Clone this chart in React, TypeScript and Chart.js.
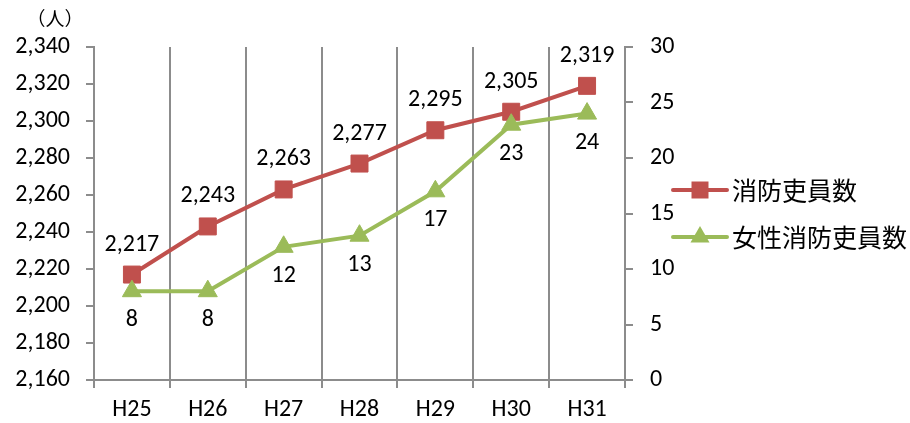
import React, { useEffect, useRef } from 'react';
import { Chart, registerables } from 'chart.js';
Chart.register(...registerables);

const categories = ['H25', 'H26', 'H27', 'H28', 'H29', 'H30', 'H31'];
const firefighters = [2217, 2243, 2263, 2277, 2295, 2305, 2319];
const femaleFirefighters = [8, 8, 12, 13, 17, 23, 24];
const seriesNames = ['消防吏員数', '女性消防吏員数'];
const unitLabel = '（人）';
const leftTicks = { min: 2160, max: 2340, step: 20 };
const rightTicks = { min: 0, max: 30, step: 5 };

const RED = '#C0504D';
const GREEN = '#9BBB59';
const GRID = '#8c8c8c';
const NUM_FONT = 'Carlito, Lato, sans-serif';
const JP_FONT = '"Noto Sans CJK JP", sans-serif';

const fmt = (v: number) => v.toLocaleString('en-US');

const dataLabels = {
  id: 'dataLabels',
  afterDatasetsDraw(chart: any) {
    const ctx = chart.ctx;
    ctx.save();
    ctx.font = `24px ${NUM_FONT}`;
    ctx.fillStyle = '#000';
    ctx.textAlign = 'center';
    ctx.textBaseline = 'middle';
    chart.data.datasets.forEach((ds: any, i: number) => {
      const meta = chart.getDatasetMeta(i);
      meta.data.forEach((pt: any, j: number) => {
        const dy = i === 0 ? -30 : 29;
        ctx.fillText(fmt(ds.data[j]), pt.x, pt.y + dy);
      });
    });
    ctx.restore();
  },
};

const extras = {
  id: 'extras',
  afterDraw(chart: any) {
    const ctx = chart.ctx;
    const area = chart.chartArea;
    ctx.save();
    // unit label
    ctx.font = `19px ${JP_FONT}`;
    ctx.fillStyle = '#000';
    ctx.textAlign = 'center';
    ctx.textBaseline = 'middle';
    ctx.fillText(unitLabel, 55, 19);
    // legend
    const mid = (area.top + area.bottom) / 2;
    const colors = [RED, GREEN];
    seriesNames.forEach((name, i) => {
      const y = mid - 23.5 + i * 47;
      const x0 = area.right + 48;
      const x1 = area.right + 102;
      const cx = (x0 + x1) / 2;
      ctx.strokeStyle = colors[i];
      ctx.lineWidth = 4;
      ctx.lineCap = 'round';
      ctx.beginPath();
      ctx.moveTo(x0, y);
      ctx.lineTo(x1, y);
      ctx.stroke();
      ctx.fillStyle = colors[i];
      ctx.beginPath();
      if (i === 0) {
        ctx.rect(cx - 8.5, y - 8.5, 17, 17);
      } else {
        const r = 11;
        ctx.moveTo(cx, y - r);
        ctx.lineTo(cx + r * 0.866, y + r / 2);
        ctx.lineTo(cx - r * 0.866, y + r / 2);
        ctx.closePath();
      }
      ctx.fill();
      ctx.fillStyle = '#000';
      ctx.font = `25px ${JP_FONT}`;
      ctx.textAlign = 'left';
      ctx.fillText(name, x1 + 5, y);
    });
    ctx.restore();
  },
};

export default function App() {
  const ref = useRef<HTMLCanvasElement>(null);
  useEffect(() => {
    document.body.style.margin = '0';
    const tickFont = { family: NUM_FONT, size: 24 };
    const chart = new Chart(ref.current as HTMLCanvasElement, {
      type: 'line',
      data: {
        labels: categories,
        datasets: [
          {
            label: seriesNames[0],
            data: firefighters,
            yAxisID: 'y',
            borderColor: RED,
            backgroundColor: RED,
            borderWidth: 4,
            pointStyle: 'rect',
            pointRadius: 12,
            pointBackgroundColor: RED,
            pointBorderColor: RED,
            pointBorderWidth: 1,
            tension: 0,
            order: 1,
          },
          {
            label: seriesNames[1],
            data: femaleFirefighters,
            yAxisID: 'y1',
            borderColor: GREEN,
            backgroundColor: GREEN,
            borderWidth: 4,
            pointStyle: 'triangle',
            pointRadius: 11,
            pointBackgroundColor: GREEN,
            pointBorderColor: GREEN,
            pointBorderWidth: 1,
            tension: 0,
            order: 0,
          },
        ],
      },
      options: {
        animation: false,
        responsive: false,
        maintainAspectRatio: false,
        layout: { padding: { top: 47, left: 0, right: 0, bottom: 0 } },
        plugins: { legend: { display: false }, tooltip: { enabled: false } },
        scales: {
          x: {
            type: 'category',
            offset: true,
            grid: { offset: true, color: GRID, lineWidth: 2, tickLength: 8, drawTicks: true },
            border: { color: GRID, width: 2 },
            ticks: { font: tickFont, color: '#000', padding: 8, maxRotation: 0 },
            afterFit: (s: any) => { s.height = 43; },
          },
          y: {
            position: 'left',
            min: leftTicks.min,
            max: leftTicks.max,
            grid: { drawOnChartArea: false, color: GRID, lineWidth: 2, tickLength: 8 },
            border: { color: GRID, width: 2 },
            ticks: { stepSize: leftTicks.step, font: tickFont, color: '#000', padding: 16, callback: (v: any) => fmt(Number(v)) },
            afterFit: (s: any) => { s.width = 94; },
          },
          y1: {
            position: 'right',
            min: rightTicks.min,
            max: rightTicks.max,
            grid: { drawOnChartArea: false, color: GRID, lineWidth: 2, tickLength: 8 },
            border: { color: GRID, width: 2 },
            ticks: { stepSize: rightTicks.step, font: tickFont, color: '#000', padding: 17 },
            afterFit: (s: any) => { s.width = 285; },
          },
        },
      },
      plugins: [dataLabels, extras],
    });
    return () => chart.destroy();
  }, []);
  return (
    <div style={{ width: 910, height: 423 }}>
      <canvas ref={ref} width={910} height={423} style={{ display: 'block' }} />
    </div>
  );
}
